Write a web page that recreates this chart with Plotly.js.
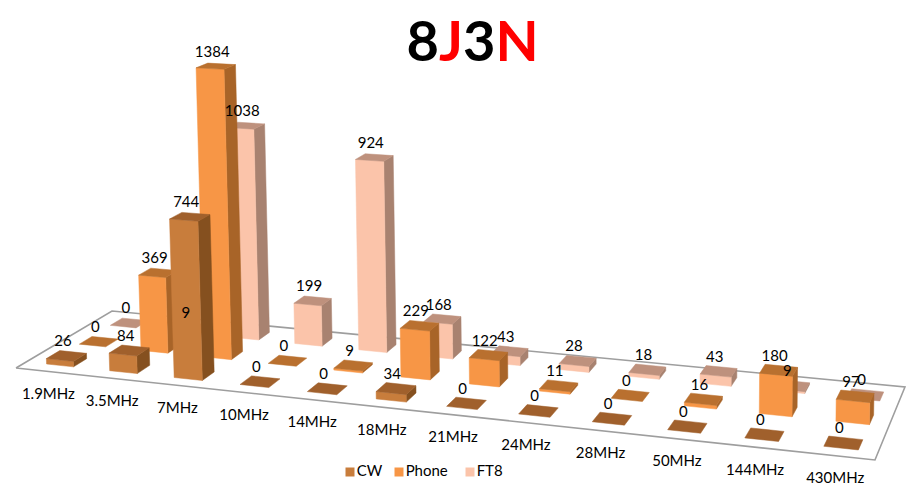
<!DOCTYPE html>
<html><head><meta charset="utf-8">
<script src="https://cdn.plot.ly/plotly-3.0.1.min.js"></script>
<style>html,body{margin:0;padding:0;background:#fff}#c{width:916px;height:504px}</style>
</head><body><div id="c"></div>
<script>
const categories=['1.9MHz','3.5MHz','7MHz','10MHz','14MHz','18MHz','21MHz','24MHz','28MHz','50MHz','144MHz','430MHz'];
const seriesNames=['CW','Phone','FT8'];
const cw=[26,84,744,0,0,34,0,0,0,0,0,0];
const phone=[0,369,1384,0,9,229,122,11,0,16,180,97];
const ft8=[0,9,1038,199,924,168,43,28,18,43,9,0];
const series=[cw,phone,ft8];
const frontColors=['#C87D3C','#F79646','#FBC4AA'];
const topColors=['#A0602C','#B9702F','#BE917D'];
const sideColors=['#85501F','#A86428','#A88270'];

// Projective camera of the tilted 3D view, fitted to the floor's four corners.
const A=747.4,B=105.86,C=16,D=33.35,E=-29.62,F=368,G=-0.1275,H=0.08805;
const ZX=-0.0083,ZY=-0.2125,WZ=-0.000013;
function project(cat,ser,val){
  const u=(cat+0.5)/categories.length,v=(ser+0.5)/series.length;
  const w=G*u+H*v+1+WZ*val;
  return [(A*u+B*v+C+ZX*val)/w,(D*u+E*v+F+ZY*val)/w];
}
const barShift=0.04,halfW=0.215,halfD=0.2;
function polygon(points){
  const xs=[],ys=[];
  points.forEach(p=>{const q=project(p[0],p[1],p[2]);xs.push(q[0]);ys.push(q[1]);});
  xs.push(xs[0],null);ys.push(ys[0],null);
  return [xs,ys];
}
function faceTrace(s,color,faceOf){
  const x=[],y=[];
  series[s].forEach((v,c)=>{
    const f=faceOf(c+barShift,s,v);
    if(!f)return;
    const q=polygon(f);x.push(...q[0]);y.push(...q[1]);
  });
  return {type:'scatter',mode:'lines',x,y,fill:'toself',fillcolor:color,line:{width:0.5,color},hoverinfo:'skip',showlegend:false};
}
const traces=[];
// floor outline
const floorPts=[[-0.5,-0.5],[categories.length-0.5,-0.5],[categories.length-0.5,series.length-0.5],[-0.5,series.length-0.5]];
const floor=polygon(floorPts.map(p=>[p[0],p[1],0]));
traces.push({type:'scatter',mode:'lines',x:floor[0].slice(0,5),y:floor[1].slice(0,5),line:{color:'#9E9E9E',width:1.6},hoverinfo:'skip',showlegend:false});
// bars, back row first
[2,1,0].forEach(s=>{
  traces.push(faceTrace(s,sideColors[s],(c,s,v)=>v>0?[[c+halfW,s-halfD,0],[c+halfW,s+halfD,0],[c+halfW,s+halfD,v],[c+halfW,s-halfD,v]]:null));
  traces.push(faceTrace(s,frontColors[s],(c,s,v)=>v>0?[[c-halfW,s-halfD,0],[c+halfW,s-halfD,0],[c+halfW,s-halfD,v],[c-halfW,s-halfD,v]]:null));
  traces.push(faceTrace(s,topColors[s],(c,s,v)=>[[c-halfW,s-halfD,v],[c+halfW,s-halfD,v],[c+halfW,s+halfD,v],[c-halfW,s+halfD,v]]));
});
const labelFont={family:'Lato, sans-serif',size:15,color:'#000'};
// value labels
series.forEach((vals,s)=>{
  const pts=vals.map((v,c)=>project(c,s,v));
  traces.push({type:'scatter',mode:'text',x:pts.map(p=>p[0]-1),y:pts.map(p=>p[1]-13),text:vals.map(String),textposition:'middle center',textfont:labelFont,hoverinfo:'skip',showlegend:false,cliponaxis:false});
});
// category labels
const catPts=categories.map((t,c)=>project(c,-0.5,0));
traces.push({type:'scatter',mode:'text',x:catPts.map(p=>p[0]+1),y:catPts.map(p=>p[1]+24),text:categories,textposition:'middle center',textfont:labelFont,hoverinfo:'skip',showlegend:false,cliponaxis:false});
// legend row
const legendX=[350,399,470];
seriesNames.forEach((n,s)=>traces.push({type:'scatter',mode:'markers+text',x:[legendX[s]],y:[472],text:[n],textposition:'middle right',textfont:labelFont,marker:{symbol:'square',size:9,color:frontColors[s]},hoverinfo:'skip',showlegend:false}));

const layout={width:916,height:504,margin:{l:0,r:0,t:0,b:0},paper_bgcolor:'#fff',plot_bgcolor:'#fff',showlegend:false,
 xaxis:{visible:false,range:[0,916],fixedrange:true},
 yaxis:{visible:false,range:[504,0],fixedrange:true},
 title:{text:'<b>8<span style="color:#FF0000">J</span>3<span style="color:#FF0000">N</span></b>',x:0.516,xanchor:'center',y:0.917,yanchor:'middle',font:{family:'Lato, sans-serif',size:56,color:'#000'}}};
Plotly.newPlot('c',traces,layout,{displayModeBar:false});
</script></body></html>
